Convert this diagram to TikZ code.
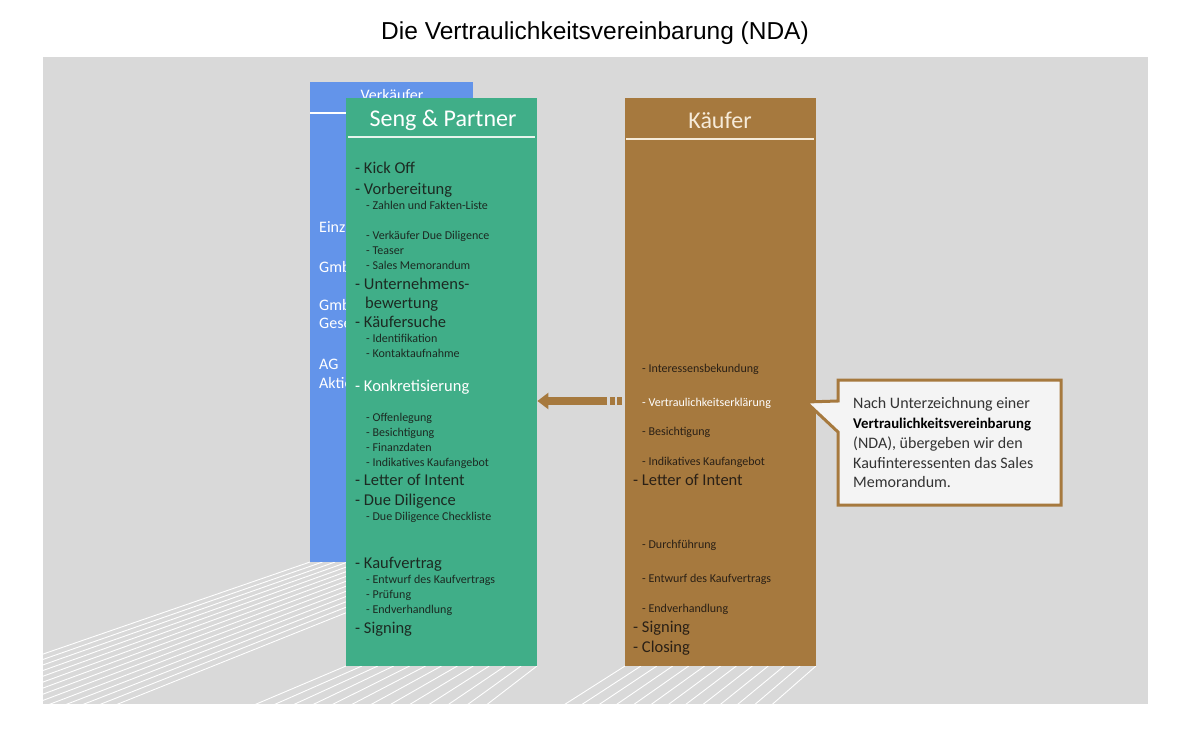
\documentclass[tikz,border=0pt]{standalone}
\usepackage{fontspec}
\setmainfont{Carlito}
\newfontfamily\titlefont{Liberation Sans}
\usetikzlibrary{arrows.meta}
\definecolor{panelC}{HTML}{D9D9D9}
\definecolor{blueC}{HTML}{6394EA}
\definecolor{greenC}{HTML}{40AE88}
\definecolor{brownC}{HTML}{A6793E}
\definecolor{gtxt}{HTML}{1C2A22}
\definecolor{btxt}{HTML}{2A2016}
\definecolor{callC}{HTML}{F4F4F4}
\definecolor{calltxt}{HTML}{333333}
\definecolor{gline}{HTML}{E6F4EC}
\definecolor{bline}{HTML}{F6EBD9}
\tikzset{
  colbox/.style={rectangle, inner sep=0, anchor=north west, draw=none},
  hdr/.style={font=\fontsize{24}{28}\selectfont, text=white, inner sep=0},
  big/.style={font=\fontsize{16.5}{20}\selectfont, anchor=base west, inner sep=0},
  small/.style={font=\fontsize{12}{15}\selectfont, anchor=base west, inner sep=0},
  bluetxt/.style={font=\fontsize{16}{18}\selectfont, anchor=base west, inner sep=0, text=white},
  calltext/.style={font=\fontsize{16}{20}\selectfont, anchor=base west, inner sep=0, text=calltxt},
  stripe/.style={white, line width=0.9pt},
}
\begin{document}
\begin{tikzpicture}[x=1pt,y=-1pt]
\useasboundingbox (0,0) rectangle (1188,738);
\fill[white] (0,0) rectangle (1188,738);
\node[font=\titlefont\fontsize{24.5}{28}\selectfont, inner sep=0] (title) at (595,33) {Die Vertraulichkeitsvereinbarung (NDA)};
\fill[panelC] (43,57) rectangle (1148,704);
% floor stripes
\begin{scope}
\clip (43,57) rectangle (1148,704);
\foreach \i in {0,...,13}{
  \pgfmathsetmacro{\xs}{310+\i*163/13}
  \pgfmathsetmacro{\dd}{-2.9+\i*0.4/13}
  \draw[stripe] (\xs,562) -- ++({\dd*160},160);
}
\foreach \i in {0,...,12}{
  \pgfmathsetmacro{\xs}{346+\i*191/12}
  \pgfmathsetmacro{\dd}{-2.36+\i*1.06/12}
  \draw[stripe] (\xs,666) -- ++({\dd*60},60);
}
\foreach \i in {0,...,12}{
  \pgfmathsetmacro{\xs}{625+\i*191/12}
  \pgfmathsetmacro{\dd}{-1.57+\i*0.43/12}
  \draw[stripe] (\xs,666) -- ++({\dd*60},60);
}
\end{scope}
% Verkaeufer column
\node[colbox, fill=blueC, minimum width=163pt, minimum height=480pt] (verk) at (310,82) {};
\node[font=\fontsize{16}{18}\selectfont, text=white, anchor=base, inner sep=0] (verkh) at (392,101) {Verkäufer};
\draw[white, line width=1.5pt] (310,113) -- (473,113);
\begin{scope}
\clip (310,82) rectangle (346,562);
\node[bluetxt] (v1) at (319,232) {Einz};
\node[bluetxt] (v2) at (319,272) {Gmb};
\node[bluetxt] (v3) at (319,310) {Gmb};
\node[bluetxt] (v4) at (319,328) {Gese};
\node[bluetxt] (v5) at (319,369) {AG};
\node[bluetxt] (v6) at (319,388) {Aktie};
\end{scope}
% Seng & Partner column
\node[colbox, fill=greenC, minimum width=191pt, minimum height=568pt] (seng) at (346,98) {};
\node[hdr] (sengh) at (443,120) {Seng \& Partner};
\draw[gline, line width=2pt] (348,137) -- (535,137);
\begin{scope}[every node/.append style={text=gtxt}]
\node[big] (g1) at (355,174) {- Kick Off};
\node[big] (g2) at (355,194) {- Vorbereitung};
\node[small] (g3) at (366,209) {- Zahlen und Fakten-Liste};
\node[small] (g4) at (366,239) {- Verkäufer Due Diligence};
\node[small] (g5) at (366,254) {- Teaser};
\node[small] (g6) at (366,269) {- Sales Memorandum};
\node[big] (g7) at (355,289) {- Unternehmens-};
\node[big] (g8) at (365,308) {bewertung};
\node[big] (g9) at (355,327) {- Käufersuche};
\node[small] (g10) at (366,342) {- Identifikation};
\node[small] (g11) at (366,357) {- Kontaktaufnahme};
\node[big, text=white] (g12) at (355,391) {- Konkretisierung};
\node[small] (g13) at (366,421) {- Offenlegung};
\node[small] (g14) at (366,436) {- Besichtigung};
\node[small] (g15) at (366,451) {- Finanzdaten};
\node[small] (g16) at (366,466) {- Indikatives Kaufangebot};
\node[big] (g17) at (355,485) {- Letter of Intent};
\node[big] (g18) at (355,505) {- Due Diligence};
\node[small] (g19) at (366,520) {- Due Diligence Checkliste};
\node[big] (g20) at (355,568) {- Kaufvertrag};
\node[small] (g21) at (366,583) {- Entwurf des Kaufvertrags};
\node[small] (g22) at (366,598) {- Prüfung};
\node[small] (g23) at (366,613) {- Endverhandlung};
\node[big] (g24) at (355,633) {- Signing};
\end{scope}
% Kaeufer column
\node[colbox, fill=brownC, minimum width=191pt, minimum height=568pt] (kauf) at (625,98) {};
\node[hdr, text=bline] (kaufh) at (720,120) {Käufer};
\draw[bline, line width=2pt] (626,139) -- (814,139);
\begin{scope}[every node/.append style={text=btxt}]
\node[small] (k1) at (642,372) {- Interessensbekundung};
\node[small, text=white] (k2) at (642,406) {- Vertraulichkeitserklärung};
\node[small] (k3) at (642,435) {- Besichtigung};
\node[small] (k4) at (642,465) {- Indikatives Kaufangebot};
\node[big] (k5) at (633,485) {- Letter of Intent};
\node[small] (k6) at (642,548) {- Durchführung};
\node[small] (k7) at (642,582) {- Entwurf des Kaufvertrags};
\node[small] (k8) at (642,612) {- Endverhandlung};
\node[big] (k9) at (633,632) {- Signing};
\node[big] (k10) at (633,652) {- Closing};
\end{scope}
% arrow
\coordinate (arrS) at (607,401);
\draw[brownC, line width=8pt, -{Triangle[length=11pt,width=16pt]}] (arrS) -- (seng.east |- arrS);
\fill[brownC] (610,397) rectangle (615,405);
\fill[brownC] (617,397) rectangle (622,405);
% callout
\coordinate (tip) at (806,402);
\filldraw[fill=callC, draw=brownC, line width=3pt, line join=miter] (838,380) -- (1061,380) -- (1061,505) -- (838,505) -- (838,432) -- (tip) -- (838,401) -- cycle;
\node[calltext] (c1) at (853,408) {Nach Unterzeichnung einer};
\node[calltext, text=black, font=\fontsize{14.8}{20}\selectfont] (c2) at (853,428) {\textbf{Vertraulichkeitsvereinbarung}};
\node[calltext] (c3) at (853,448) {(NDA), übergeben wir den};
\node[calltext] (c4) at (853,468) {Kaufinteressenten das Sales};
\node[calltext] (c5) at (853,487) {Memorandum.};
\end{tikzpicture}
\end{document}
